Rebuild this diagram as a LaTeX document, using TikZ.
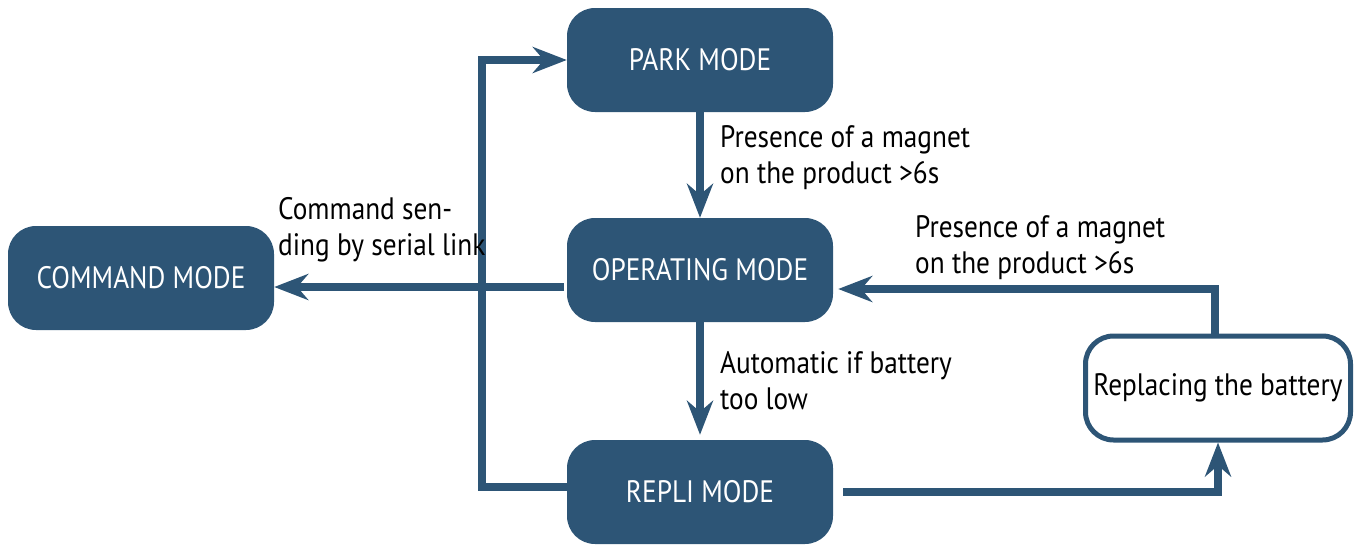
\documentclass[tikz,border=0pt]{standalone}
\usepackage{fontspec}
\setmainfont[FakeStretch=0.88]{PT Sans}
\usetikzlibrary{arrows.meta}
\definecolor{mainblue}{RGB}{45,85,118}
\begin{document}
\begin{tikzpicture}[x=1pt,y=-1pt,
  modebox/.style={fill=mainblue,rounded corners=28pt,minimum width=266pt,minimum height=104pt,inner sep=0pt,text=white,font=\fontsize{31}{35}\selectfont},
  whitebox/.style={draw=mainblue,line width=5pt,fill=white,rounded corners=28pt,minimum width=265pt,minimum height=104pt,inner sep=0pt,text=black,font=\fontsize{31}{35}\selectfont},
  arr/.style={draw=mainblue,line width=7.5pt,-{Stealth[length=34pt,width=26pt,inset=11pt]}},
  lbl/.style={align=left,anchor=north west,inner sep=0pt,font=\fontsize{31}{36}\selectfont}]
\useasboundingbox (0,0) rectangle (1362,544);
\node[modebox] (park) at (700,60) {PARK MODE};
\node[modebox] (oper) at (700,270) {OPERATING MODE};
\node[modebox] (repli) at (700,492) {REPLI MODE};
\node[modebox] (cmd) at (141,278) {COMMAND MODE};
\node[whitebox] (bat) at (1218,388) {Replacing the battery};
\coordinate (c1) at (482,487);
\coordinate (c2) at (1217,492);
\coordinate (c3) at (1215,289);
\coordinate (c4) at (564,287);
\draw[arr] (park.south) -- (oper.north);
\draw[arr] (oper.south) -- ([yshift=5pt]repli.north);
\draw[arr] (c4) -- (cmd.east |- c4);
\draw[arr] (repli.west |- c1) -- (c1) |- (park.west);
\draw[arr] ([xshift=10pt]repli.east |- c2) -| (bat.south);
\draw[arr] (bat.north -| c3) |- ([xshift=5pt]oper.east |- c3);
\node[lbl] (l1) at (720,125) {Presence of a magnet\\on the product >6s};
\node[lbl] (l2) at (278,197) {Command sen-\\ding by serial link};
\node[lbl] (l3) at (915,215) {Presence of a magnet\\on the product >6s};
\node[lbl] (l4) at (720,351) {Automatic if battery\\too low};
\end{tikzpicture}
\end{document}
